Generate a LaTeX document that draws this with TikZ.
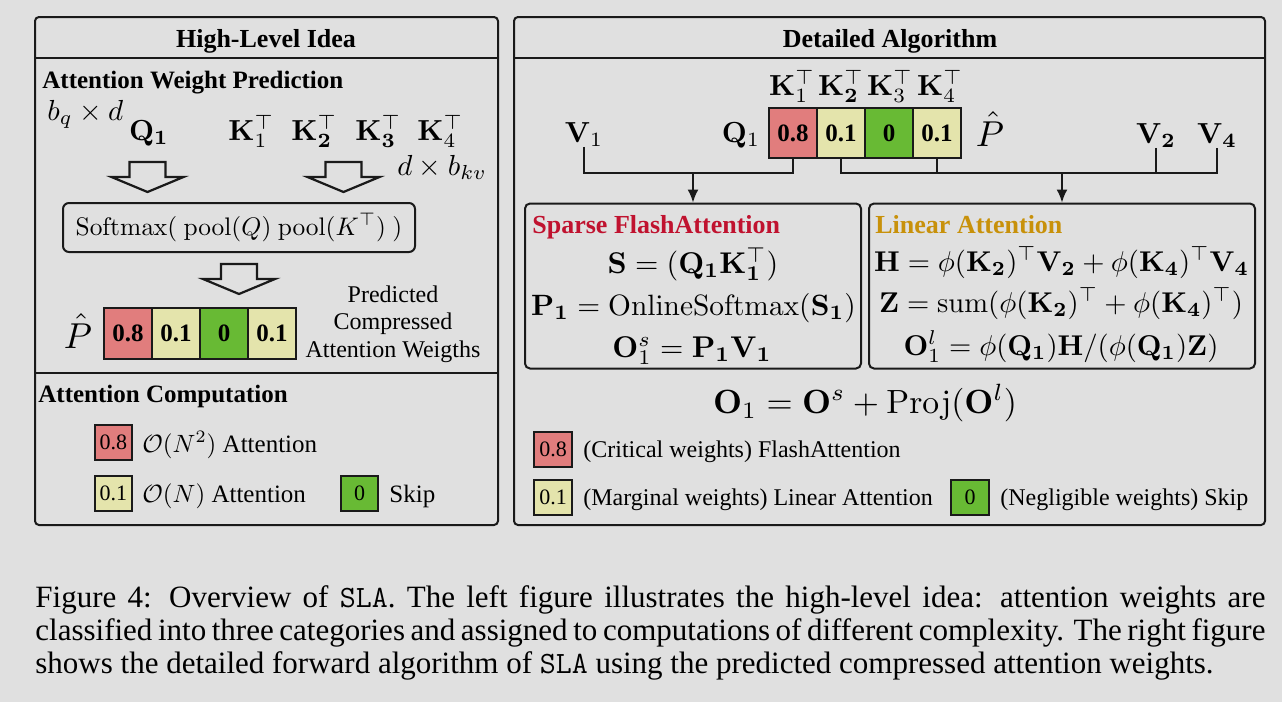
\documentclass[tikz,border=0pt]{standalone}
\usepackage[no-math]{fontspec}
\setmainfont{Liberation Serif}
\usepackage{amsmath}
\usepackage{graphicx}
\usetikzlibrary{arrows.meta}
\definecolor{bg}{HTML}{E0E0E0}
\definecolor{cred}{HTML}{E17D7D}
\definecolor{cyel}{HTML}{E4E4AC}
\definecolor{cgrn}{HTML}{68BA34}
\definecolor{sparsered}{HTML}{C0122F}
\definecolor{lingold}{HTML}{C8910A}
\definecolor{lc}{HTML}{1A1A1A}
\newcommand\fsz[1]{\fontsize{#1pt}{#1pt}\selectfont}
\newcommand\mth[2]{\scalebox{#1}{\fontsize{10pt}{12pt}\selectfont$#2$}}
\newcommand\blockarrow[4]{%
  \draw[blockarr] ({#1-18},#2) -- ({#1+18},#2) -- ({#1+18},#3) -- ({#1+36},#3)
    -- (#1,#4) -- ({#1-36},#3) -- ({#1-18},#3) -- cycle;}
\tikzset{
  panel/.style={draw=lc, line width=1pt, rounded corners=2pt},
  divider/.style={draw=lc, line width=0.9pt},
  ttl/.style={inner sep=0pt, font=\fsz{13}\bfseries, anchor=base},
  subttl/.style={inner sep=0pt, font=\fsz{12.5}\bfseries, anchor=base west},
  lbl/.style={inner sep=0pt, anchor=base},
  blockarr/.style={draw=lc, line width=1.1pt, fill=bg, line join=miter},
  cellbox/.style={draw=lc, line width=1pt, minimum width=24pt, minimum height=25.5pt, inner sep=0pt, font=\fsz{12.5}\bfseries},
  legbox/.style={draw=lc, line width=1pt, minimum width=18.5pt, minimum height=17.5pt, inner sep=0pt, font=\fsz{11}},
  legtxt/.style={inner sep=0pt, anchor=base west, font=\fsz{12.5}},
  conn/.style={draw=lc, line width=0.9pt},
  arr/.style={conn, -{Latex[length=6.5pt,width=5.5pt]}},
  algbox/.style={draw=lc, line width=1pt, rounded corners=2.5pt, inner sep=0pt},
}
\begin{document}
\begin{tikzpicture}[x=0.5pt,y=-0.5pt]
\fill[bg] (0,0) rectangle (1282,702);
\useasboundingbox (0,0) rectangle (1282,702);

% ---------------- Left panel ----------------
\draw[panel] (35,17) rectangle (498,525);
\draw[divider] (35,58) -- (498,58);
\draw[divider] (35,373) -- (498,373);
\node[ttl] (ttlL) at (266,47) {High-Level Idea};
\node[subttl] (awp) at (42,88) {Attention Weight Prediction};
\node[lbl, anchor=base west] (bqd) at (47,120) {\mth{1.45}{b_q \times d}};
\node[lbl] (lQ) at (149,140) {\mth{1.45}{\mathbf{Q_1}}};
\node[lbl, anchor=base west] (lK1) at (228,140) {\mth{1.45}{\mathbf{K}_1^{\top}}};
\node[lbl, anchor=base west] (lK2) at (291,140) {\mth{1.45}{\mathbf{K}_{\mathbf{2}}^{\top}}};
\node[lbl, anchor=base west] (lK3) at (355,140) {\mth{1.45}{\mathbf{K}_{\mathbf{3}}^{\top}}};
\node[lbl, anchor=base west] (lK4) at (417,140) {\mth{1.45}{\mathbf{K}_4^{\top}}};
\node[lbl, anchor=base west] (dbkv) at (397,175) {\mth{1.45}{d \times b_{kv}}};
\blockarrow{147.5}{162}{177}{192}
\blockarrow{343.5}{162}{177}{192}
\node[draw=lc, line width=1pt, rounded corners=3pt, minimum width=176pt, minimum height=24.5pt, inner sep=0pt] (smax) at (239,227.5)
  {\mth{1.27}{\mathrm{Softmax}(\ \mathrm{pool}(Q)\ \mathrm{pool}(K^{\top})\ )}};
\blockarrow{239}{264}{279}{294}
\node[lbl] (lP) at (78,348) {\mth{1.8}{\hat{P}}};
\node[cellbox, fill=cred] (lc1) at (128,333.5) {0.8};
\node[cellbox, fill=cyel] (lc2) at (176,333.5) {0.1};
\node[cellbox, fill=cgrn] (lc3) at (224,333.5) {0};
\node[cellbox, fill=cyel] (lc4) at (272,333.5) {0.1};
\node[lbl, font=\fsz{12}] (pr1) at (393,302) {Predicted};
\node[lbl, font=\fsz{12}] (pr2) at (393,329.5) {Compressed};
\node[lbl, font=\fsz{12}] (pr3) at (393,357) {Attention Weigths};
\node[subttl] (acomp) at (38,402) {Attention Computation};
\node[legbox, fill=cred] (lg1) at (113.5,442.5) {0.8};
\node[legtxt] (lg1t) at (142,452) {\mth{1.25}{\mathcal{O}(N^2)} Attention};
\node[legbox, fill=cyel] (lg2) at (113.5,493.5) {0.1};
\node[legtxt] (lg2t) at (142,502) {\mth{1.25}{\mathcal{O}(N)} Attention};
\node[legbox, fill=cgrn] (lg3) at (359.5,493.5) {0};
\node[legtxt] (lg3t) at (389,502) {Skip};

% ---------------- Right panel ----------------
\draw[panel] (514,17) rectangle (1265,525);
\draw[divider] (514,58) -- (1265,58);
\node[ttl] (ttlR) at (890,47) {Detailed Algorithm};
\node[lbl] (rK1) at (792,95) {\mth{1.45}{\mathbf{K}_1^{\top}}};
\node[lbl] (rK2) at (841,95) {\mth{1.45}{\mathbf{K}_{\mathbf{2}}^{\top}}};
\node[lbl] (rK3) at (890,95) {\mth{1.45}{\mathbf{K}_3^{\top}}};
\node[lbl] (rK4) at (940,95) {\mth{1.45}{\mathbf{K}_4^{\top}}};
\node[cellbox, fill=cred, minimum height=25pt] (c1) at (793,133) {0.8};
\node[cellbox, fill=cyel, minimum height=25pt] (c2) at (841,133) {0.1};
\node[cellbox, fill=cgrn, minimum height=25pt] (c3) at (889,133) {0};
\node[cellbox, fill=cyel, minimum height=25pt] (c4) at (937,133) {0.1};
\node[lbl] (rQ) at (741,142) {\mth{1.45}{\mathbf{Q}_1}};
\node[lbl] (V1) at (584,142) {\mth{1.45}{\mathbf{V}_1}};
\node[lbl] (rP) at (990,146) {\mth{1.8}{\hat{P}}};
\node[lbl] (V2) at (1156,143) {\mth{1.45}{\mathbf{V_2}}};
\node[lbl] (V4) at (1217,143) {\mth{1.45}{\mathbf{V_4}}};

\node[algbox, minimum width=168pt, minimum height=82.5pt] (sparse) at (693,286) {};
\node[algbox, minimum width=193pt, minimum height=82.5pt] (linear) at (1062,286) {};

\coordinate (j1) at (693,173);
\coordinate (j2) at (1062,173);
\draw[conn] (V1.south) |- (j1) -| (c1.south);
\draw[arr] (j1) -- (sparse.north);
\draw[conn] (c2.south) -- (c2.south |- j2) -- (V4.south |- j2) -- (V4.south);
\draw[conn] (c4.south) -- (c4.south |- j2);
\draw[conn] (V2.south) -- (V2.south |- j2);
\draw[arr] (j2) -- (linear.north);

\node[inner sep=0pt, anchor=base west, font=\fsz{13}\bfseries, text=sparsered] (spT) at (532,233) {Sparse FlashAttention};
\node[lbl] (eqS) at (693,273) {\mth{1.5}{\mathbf{S} = (\mathbf{Q_1}\mathbf{K}_{\mathbf{1}}^{\top})}};
\node[lbl] (eqP) at (693.5,315) {\mth{1.47}{\mathbf{P_1} = \mathrm{OnlineSoftmax}(\mathbf{S_1})}};
\node[lbl] (eqOs) at (692,357) {\mth{1.5}{\mathbf{O}_1^{s} = \mathbf{P_1}\mathbf{V_1}}};

\node[inner sep=0pt, anchor=base west, font=\fsz{13}\bfseries, text=lingold] (lnT) at (875,233) {Linear Attention};
\node[lbl] (eqH) at (1061.5,271) {\mth{1.43}{\mathbf{H} = \phi(\mathbf{K_2})^{\top}\mathbf{V_2} + \phi(\mathbf{K_4})^{\top}\mathbf{V_4}}};
\node[lbl] (eqZ) at (1061,312) {\mth{1.43}{\mathbf{Z} = \mathrm{sum}(\phi(\mathbf{K_2})^{\top} + \phi(\mathbf{K_4})^{\top})}};
\node[lbl] (eqOl) at (1061,355) {\mth{1.43}{\mathbf{O}_1^{l} = \phi(\mathbf{Q_1})\mathbf{H}/(\phi(\mathbf{Q_1})\mathbf{Z})}};

\node[lbl] (eqO) at (865,413) {\mth{1.68}{\mathbf{O}_1 = \mathbf{O}^{s} + \mathrm{Proj}(\mathbf{O}^{l})}};

\node[legbox, fill=cred, minimum width=19pt] (rg1) at (553,449.5) {0.8};
\node[legtxt, font=\fsz{12}] (rg1t) at (583,457) {(Critical weights) FlashAttention};
\node[legbox, fill=cyel, minimum width=19pt] (rg2) at (553,497.5) {0.1};
\node[legtxt, font=\fsz{12}] (rg2t) at (583,505) {(Marginal weights) Linear Attention};
\node[legbox, fill=cgrn, minimum width=19pt] (rg3) at (970,497.5) {0};
\node[legtxt, font=\fsz{12}] (rg3t) at (1000,505) {(Negligible weights) Skip};

% ---------------- Caption ----------------
\node[inner sep=0pt, anchor=north west, text width=615pt, align=justify, font=\fontsize{15.5pt}{16.6pt}\selectfont] (cap) at (35,585)
  {\noindent Figure 4: Overview of \texttt{SLA}. The left figure illustrates the high-level idea: attention weights are\linebreak
   classified into three categories and assigned to computations of different complexity. The right figure\linebreak
   shows the detailed forward algorithm of \texttt{SLA} using the predicted compressed attention weights.};
\end{tikzpicture}
\end{document}
